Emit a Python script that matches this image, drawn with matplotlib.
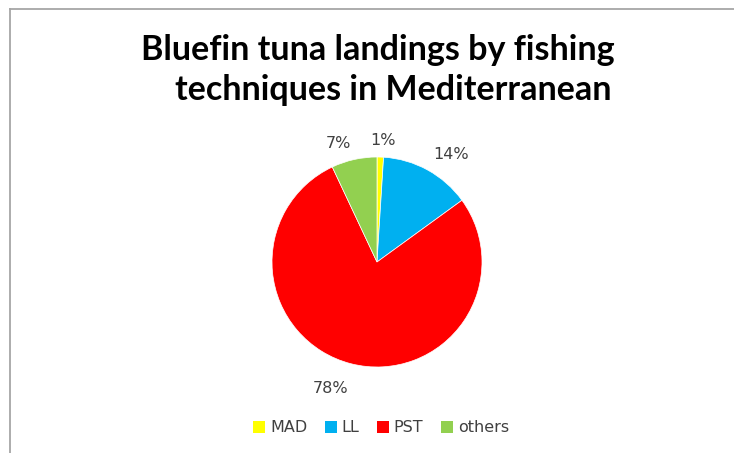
import numpy as np
import matplotlib
matplotlib.use("Agg")
import matplotlib.pyplot as plt
from matplotlib.lines import Line2D
from matplotlib.patches import Patch

categories = ["MAD", "LL", "PST", "others"]
values = [1, 14, 78, 7]
colors = ["#FFFF00", "#00B0F0", "#FF0000", "#92D050"]
title_lines = ["Bluefin tuna landings by fishing", "techniques in Mediterranean"]

W, H = 734, 453
fig = plt.figure(figsize=(W / 100, H / 100), dpi=100)

# outer frame (top and left edges visible only)
fx, fy = 9.5 / W, 1 - 8.5 / H
fig.lines.append(Line2D([fx, 1.01], [fy, fy], transform=fig.transFigure,
                        color="#A6A6A6", linewidth=1.3))
fig.lines.append(Line2D([fx, fx], [fy, -0.01], transform=fig.transFigure,
                        color="#A6A6A6", linewidth=1.3))

cx, cy, r = 377, 262, 105
ax = fig.add_axes([(cx - r) / W, (H - cy - r) / H, 2 * r / W, 2 * r / H])
wedges, texts, autotexts = ax.pie(
    values, colors=colors, startangle=90, counterclock=False,
    autopct=lambda p: f"{p:.0f}%", pctdistance=1.2, radius=1,
    wedgeprops=dict(edgecolor="white", linewidth=0.5),
    textprops=dict(fontsize=11.5, color="#404040", family="DejaVu Sans"))
ax.set_xlim(-1, 1)
ax.set_ylim(-1, 1)
ax.set_aspect("equal")
ax.axis("off")

# Excel-like outside-end label placement
fig.canvas.draw()
renderer = fig.canvas.get_renderer()
px = 2.0 / (2 * r)          # data units per pixel
gap = 1.114                  # radius fraction of label anchor
half_h = 6.0                 # half digit height, px
for w, t in zip(wedges, autotexts):
    ang = np.deg2rad((w.theta1 + w.theta2) / 2)
    ux, uy = np.cos(ang), np.sin(ang)
    t.set_ha("center")
    t.set_va("center_baseline")
    bb = t.get_window_extent(renderer)
    half_w = bb.width / 2
    ox = half_w * np.clip(5 * ux, -1, 1)
    oy = half_h if uy > 0 else -2 * half_h
    t.set_position((gap * ux + ox * px, gap * uy + oy * px))

fig.text(377.5 / W, 1 - 60 / H, title_lines[0], ha="center", va="baseline",
         fontsize=24.5, fontweight="bold", family="Lato")
fig.text(393.5 / W, 1 - 100 / H, title_lines[1], ha="center", va="baseline",
         fontsize=24.5, fontweight="bold", family="Lato")

handles = [Patch(facecolor=c, edgecolor="none") for c in colors]
fig.legend(handles, categories, loc="center", bbox_to_anchor=(381 / W, 1 - 428 / H),
           ncol=4, frameon=False, handlelength=0.75, handleheight=0.75,
           handletextpad=0.3, columnspacing=1.1, borderpad=0,
           prop=dict(family="DejaVu Sans", size=11.5), labelcolor="#404040")

fig.savefig("out.png", dpi=100)
